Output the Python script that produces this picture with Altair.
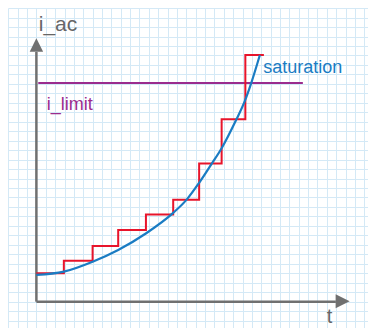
import altair as alt
import pandas as pd

# ---- values (grid units; origin at axes corner) ----
step_t = [0, 2.93, 6.0, 8.73, 11.69, 14.6, 17.37, 19.77, 22.3, 24.28]
step_i = [3.0, 4.33, 5.88, 7.57, 9.21, 10.77, 14.59, 19.26, 26.05, 26.05]

curve_t = [0, 2.93, 6.0, 8.73, 11.68, 14.57, 16.06, 17.37, 18.7, 19.77, 21.3, 22.25, 22.9, 23.85]
curve_i = [2.82, 3.17, 4.22, 5.46, 7.2, 9.35, 10.8, 12.55, 14.55, 16.2, 19.15, 21.2, 23.0, 26.05]

limit_i = 23.09
limit_t = [0.2, 28.44]

grid_t = list(range(-3, 36))
grid_i = list(range(-2, 32))

labels_text = ["i_ac", "t", "i_limit", "saturation"]
labels_t = [0.25, 31.0, 1.1, 24.2]
labels_i = [28.6, -2.25, 20.25, 24.15]
labels_color = ["#666666", "#666666", "#9b2c8e", "#1a7cc3"]
labels_size = [21, 20, 18, 18]

TMIN, TMAX = -3.03, 35.39
IMIN, IMAX = -2.78, 31.01

xs = alt.Scale(domain=[TMIN, TMAX], nice=False, zero=False)
ys = alt.Scale(domain=[IMIN, IMAX], nice=False, zero=False)

grid_color = "#d4e9f6"
xaxis = alt.Axis(values=grid_t, grid=True, gridColor=grid_color, gridWidth=1,
                 domain=False, ticks=False, labels=False, title=None)
yaxis = alt.Axis(values=grid_i, grid=True, gridColor=grid_color, gridWidth=1,
                 domain=False, ticks=False, labels=False, title=None)

def X(field="t"):
    return alt.X(f"{field}:Q", scale=xs, axis=xaxis)

def Y(field="i"):
    return alt.Y(f"{field}:Q", scale=ys, axis=yaxis)

axis_gray = "#707070"

# axes lines
axes_df = pd.DataFrame({"t": [0, 0], "t2": [0, 31.96], "i": [0, 0], "i2": [26.37, 0]})
axes = alt.Chart(axes_df).mark_rule(color=axis_gray, strokeWidth=2.5).encode(
    x=X("t"), x2="t2:Q", y=Y("i"), y2="i2:Q")

arrow_up = alt.Chart(pd.DataFrame({"t": [0], "i": [27.1]})).mark_point(
    shape="M0,-1 L1,1 L-1,1 Z", size=180, filled=True, opacity=1, color=axis_gray
).encode(x=X(), y=Y())
arrow_right = alt.Chart(pd.DataFrame({"t": [32.68], "i": [0.05]})).mark_point(
    shape="M1,0 L-1,-1 L-1,1 Z", size=196, filled=True, opacity=1, color=axis_gray
).encode(x=X(), y=Y())

limit = alt.Chart(pd.DataFrame({"t": [limit_t[0]], "t2": [limit_t[1]], "i": [limit_i]})).mark_rule(
    color="#9b2c8e", strokeWidth=2
).encode(x=X("t"), x2="t2:Q", y=Y("i"))

steps = alt.Chart(pd.DataFrame({"t": step_t, "i": step_i})).mark_line(
    interpolate="step-after", color="#e8142b", strokeWidth=2
).encode(x=X(), y=Y())

curve = alt.Chart(pd.DataFrame({"t": curve_t, "i": curve_i})).mark_line(
    interpolate="monotone", color="#1a7cc3", strokeWidth=2.2
).encode(x=X(), y=Y())

lab_df = pd.DataFrame({"txt": labels_text, "t": labels_t, "i": labels_i,
                       "c": labels_color, "s": labels_size})
labels = alt.Chart(lab_df).mark_text(
    align="left", baseline="alphabetic", font="Liberation Sans"
).encode(x=X(), y=Y(), text="txt:N",
         color=alt.Color("c:N", scale=None),
         size=alt.Size("s:Q", scale=None))

chart = alt.layer(axes, limit, steps, curve, arrow_up, arrow_right, labels).properties(
    width=360, height=320, autosize=alt.AutoSizeParams(type="none"), padding=0
).configure_view(strokeWidth=0)

chart.save("out.html", embed_options={"renderer": "svg", "actions": False})
